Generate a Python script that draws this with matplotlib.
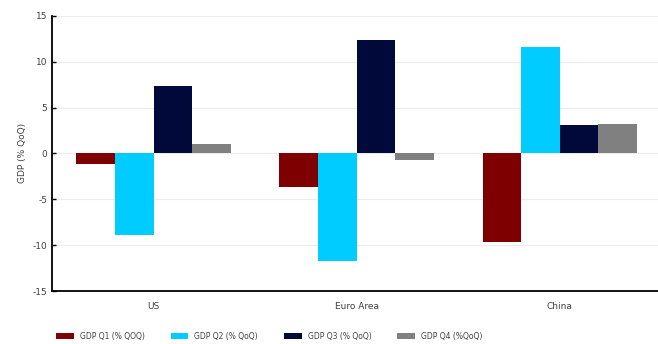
import numpy as np
import matplotlib.pyplot as plt

plt.rcParams['axes.unicode_minus'] = False

regions = ['US', 'Euro Area', 'China']
q1 = [-1.2, -3.7, -9.7]
q2 = [-8.9, -11.7, 11.6]
q3 = [7.4, 12.4, 3.1]
q4 = [1.0, -0.7, 3.2]
labels = ['GDP Q1 (% QOQ)', 'GDP Q2 (% QoQ)', 'GDP Q3 (% QoQ)', 'GDP Q4 (%QoQ)']
colors = ['#7f0000', '#00ccff', '#000a3a', '#808080']

fig = plt.figure(figsize=(6.58, 3.44), dpi=100)
ax = fig.add_axes([0.079, 0.154, 0.926, 0.8])

x = np.arange(len(regions))
w = 0.19
for i, (vals, lab, c) in enumerate(zip([q1, q2, q3, q4], labels, colors)):
    ax.bar(x + (i - 1.5) * w, vals, w, color=c, label=lab, zorder=3)

ax.set_xlim(-0.5, 2.5)
ax.set_ylim(-15, 15)
ax.set_yticks(range(-15, 16, 5))
ax.set_xticks(x)
ax.set_xticklabels(regions, fontsize=6.5, color='#404040')
ax.tick_params(axis='x', length=0, pad=8)
ax.tick_params(axis='y', labelsize=6.5, labelcolor='#404040', length=3, width=1, direction='in')
ax.set_ylabel('GDP (% QoQ)', fontsize=6.5, color='#404040', labelpad=4)
ax.grid(axis='y', color='#ececec', linewidth=0.8, zorder=0)
for s in ['top', 'right']:
    ax.spines[s].set_visible(False)
ax.spines['left'].set_linewidth(1.3)
ax.spines['bottom'].set_linewidth(1.3)

fig.legend(loc='lower left', bbox_to_anchor=(0.075, -0.01), ncol=4, frameon=False,
           fontsize=5.5, handlelength=2.3, handleheight=0.9, columnspacing=3.4,
           labelcolor='#404040')

fig.savefig('out.png', dpi=100)
